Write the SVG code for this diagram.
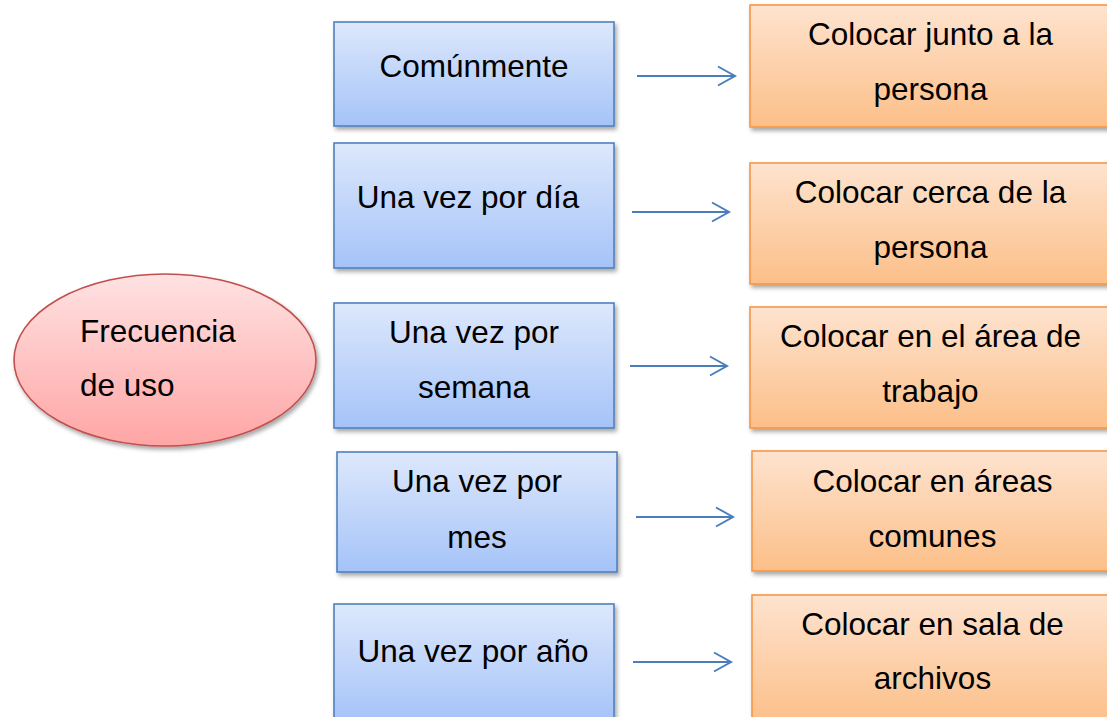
<svg xmlns="http://www.w3.org/2000/svg" width="1107" height="717" viewBox="0 0 1107 717">
  <defs>
    <linearGradient id="gBlue" x1="0" y1="0" x2="0" y2="1">
      <stop offset="0" stop-color="#dde8fc"/>
      <stop offset="1" stop-color="#a5c3f8"/>
    </linearGradient>
    <linearGradient id="gOrange" x1="0" y1="0" x2="0" y2="1">
      <stop offset="0" stop-color="#fee3cf"/>
      <stop offset="1" stop-color="#fcbf88"/>
    </linearGradient>
    <linearGradient id="gRed" x1="0" y1="0" x2="0" y2="1">
      <stop offset="0" stop-color="#ffe2e2"/>
      <stop offset="1" stop-color="#ffa5a5"/>
    </linearGradient>
    <filter id="shadow" x="-10%" y="-10%" width="130%" height="130%">
      <feDropShadow dx="2" dy="3" stdDeviation="2" flood-color="#000" flood-opacity="0.35"/>
    </filter>
    <marker id="arrow" markerUnits="userSpaceOnUse" markerWidth="22" markerHeight="24" refX="18" refY="11" orient="auto">
      <path d="M1,1.5 L18,11 L1,20.5" fill="none" stroke="#4a7ebb" stroke-width="2"/>
    </marker>
    <style>
      .blue { fill: url(#gBlue); stroke: #4f81bd; stroke-width: 1.6; filter: url(#shadow); }
      .orange { fill: url(#gOrange); stroke: #f79646; stroke-width: 1.6; filter: url(#shadow); }
      .red { fill: url(#gRed); stroke: #c0504d; stroke-width: 1.6; filter: url(#shadow); }
      text { font-family: "Liberation Sans", Arial, sans-serif; font-size: 31.5px; fill: #000; }
      .c { text-anchor: middle; }
      .conn { stroke: #4a7ebb; stroke-width: 2; fill: none; marker-end: url(#arrow); }
    </style>
  </defs>
  <rect width="1107" height="717" fill="#fff"/>

  <g id="frecuencia">
    <ellipse class="red" cx="165" cy="360" rx="151" ry="86"/>
    <text x="80" y="342">Frecuencia</text>
    <text x="80" y="396">de uso</text>
  </g>

  <g id="comunmente">
    <rect class="blue" x="334" y="22" width="280" height="104"/>
    <text class="c" x="474" y="77">Comúnmente</text>
  </g>
  <g id="dia">
    <rect class="blue" x="334" y="143" width="280" height="125"/>
    <text class="c" x="468" y="208">Una vez por día</text>
  </g>
  <g id="semana">
    <rect class="blue" x="334" y="303" width="280" height="125"/>
    <text class="c" x="474" y="343">Una vez por</text>
    <text class="c" x="474" y="398">semana</text>
  </g>
  <g id="mes">
    <rect class="blue" x="337" y="452" width="280" height="120"/>
    <text class="c" x="477" y="492">Una vez por</text>
    <text class="c" x="477" y="548">mes</text>
  </g>
  <g id="anio">
    <rect class="blue" x="334" y="604" width="280" height="118"/>
    <text class="c" x="473" y="662">Una vez por año</text>
  </g>

  <g id="junto">
    <rect class="orange" x="750" y="5" width="370" height="122"/>
    <text class="c" x="930.5" y="45">Colocar junto a la</text>
    <text class="c" x="930.5" y="100">persona</text>
  </g>
  <g id="cerca">
    <rect class="orange" x="750" y="163" width="370" height="121"/>
    <text class="c" x="930.5" y="203">Colocar cerca de la</text>
    <text class="c" x="930.5" y="258">persona</text>
  </g>
  <g id="area">
    <rect class="orange" x="750" y="307" width="370" height="121"/>
    <text class="c" x="930.5" y="347">Colocar en el área de</text>
    <text class="c" x="930.5" y="402">trabajo</text>
  </g>
  <g id="comunes">
    <rect class="orange" x="752" y="451" width="370" height="120"/>
    <text class="c" x="932.5" y="492">Colocar en áreas</text>
    <text class="c" x="932.5" y="547">comunes</text>
  </g>
  <g id="archivos">
    <rect class="orange" x="752" y="595" width="370" height="130"/>
    <text class="c" x="932.5" y="635">Colocar en sala de</text>
    <text class="c" x="932.5" y="689">archivos</text>
  </g>

  <g id="connectors">
    <path class="conn" d="M637,76 H735"/>
    <path class="conn" d="M632,212 H729"/>
    <path class="conn" d="M630,366 H727"/>
    <path class="conn" d="M636,517 H733"/>
    <path class="conn" d="M633,662 H731"/>
  </g>
</svg>
